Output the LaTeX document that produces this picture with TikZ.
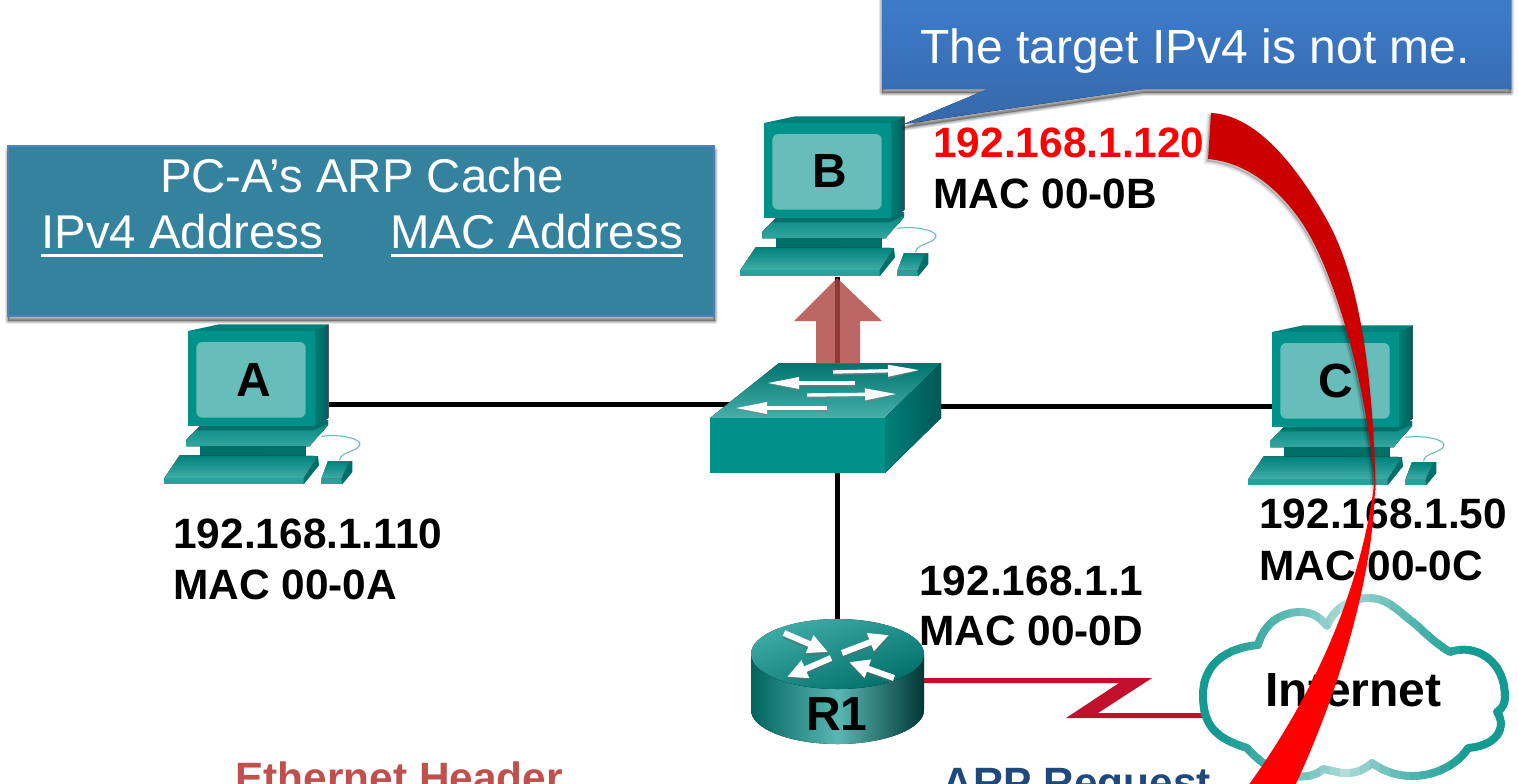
\documentclass[tikz,border=0pt]{standalone}
\usepackage{fontspec}
\setmainfont{Liberation Sans}
\usetikzlibrary{arrows.meta}
\definecolor{tealfront}{HTML}{00918A}
\definecolor{tealside}{HTML}{006E69}
\definecolor{tealtop}{HTML}{00807A}
\definecolor{tealscreen}{HTML}{66BDBA}
\definecolor{boxteal}{HTML}{34829E}
\definecolor{boxedge}{HTML}{4F81BD}
\definecolor{serialred}{HTML}{C0102E}
\definecolor{cloudlight}{HTML}{B4DEDB}
\definecolor{clouddark}{HTML}{159A92}
\definecolor{uparrow}{HTML}{AE4642}
\definecolor{calltop}{HTML}{3E7DCC}
\definecolor{callbot}{HTML}{3568AA}
\definecolor{ethcol}{HTML}{C0504D}
\definecolor{arpcol}{HTML}{1F497D}
\definecolor{darkarc}{HTML}{CC0000}
\tikzset{
  x=0.5pt,y=-0.5pt,
  lbl/.style={font=\fontsize{21.2}{25}\selectfont\bfseries,anchor=base west,inner sep=0pt,text=black},
  letterlbl/.style={font=\fontsize{24}{28}\selectfont\bfseries,anchor=base,inner sep=0pt,text=black},
  whitetxt/.style={font=\fontsize{24}{28}\selectfont,anchor=base,inner sep=0pt,text=white},
  boxtxt/.style={font=\fontsize{23.7}{28}\selectfont,anchor=base,inner sep=0pt,text=white},
  link/.style={draw=black,line width=2.5pt},
  swarrow/.style={line width=1.7pt,draw=white,-{Stealth[length=16pt,width=5.5pt,inset=0pt]}},
  swshade/.style={line width=2.5pt,draw=black!50,opacity=.5,-{Stealth[length=16pt,width=6.5pt,inset=0pt]}},
  rtarrow/.style={line width=3pt,draw=white,-{Stealth[length=10pt,width=9pt,inset=0pt]}},
  rtshade/.style={line width=3.6pt,draw=black!60,opacity=.4,-{Stealth[length=10pt,width=10pt,inset=0pt]}},
  pc/.pic={
    \begin{scope}[x=0.166667pt,y=-0.166667pt,shift={(-115,-62)}]
      \fill[left color=tealfront!85!black,right color=tealside!85!black] (497,62)--(537,42)--(537,322)--(497,350)--cycle;
      \fill[tealtop] (115,62)--(208,42)--(537,42)--(497,62)--cycle;
      \fill[tealfront] (115,62) rectangle (497,348);
      \fill[tealscreen,rounded corners=3pt] (140,95) rectangle (468,322);
      \fill[top color=tealtop,bottom color=tealfront!80!white] (150,348)--(497,348)--(535,328)--(535,345)--(490,395)--(480,408)--(110,408)--(110,388)--cycle;
      \fill[tealside] (150,348)--(497,348)--(530,328)--(535,340)--(490,360)--(140,360)--cycle;
      \fill[tealside] (150,408) rectangle (470,436);
      \fill[top color=tealtop,bottom color=tealfront!75!white] (90,435)--(505,437)--(462,503)--(44,503)--cycle;
      \fill[tealfront!85!white] (44,503) rectangle (462,522);
      \fill[tealside] (505,437)--(508,465)--(462,522)--(462,503)--cycle;
      \fill[top color=tealtop,bottom color=tealfront!75!white] (535,452)--(600,452)--(575,505)--(515,505)--cycle;
      \fill[tealfront!85!white] (515,505) rectangle (578,522);
      \fill[tealside] (600,452)--(608,452)--(608,485)--(578,522)--(575,505)--cycle;
      \draw[tealscreen,line width=.55pt] (515,378) .. controls (570,370) and (640,385) .. (630,405) .. controls (620,425) and (570,425) .. (570,450);
    \end{scope}
  }
}
\newcommand{\softshadow}[1]{%
  \foreach \d in {1,2,3,4,5}{\fill[black,opacity=.07,line join=round,draw=black,draw opacity=.07,line width=\d*.6pt] #1;}%
}
\newcommand{\darkarcpath}{(1211,113) .. controls (1255,115) and (1295,163) .. (1327,220) .. controls (1361,281) and (1373,380) .. (1375.5,490) -- (1375,490) .. controls (1368,390) and (1335,269) .. (1300,220) .. controls (1274,183) and (1242,162) .. (1208,159) -- cycle}
\begin{document}
\begin{tikzpicture}
\useasboundingbox (0,0) rectangle (1518,783);
\clip (0,0) rectangle (1518,783);
\fill[white] (0,0) rectangle (1518,783);

% connection points
\coordinate (portA) at (329,404);
\coordinate (swW) at (735,404);
\coordinate (swE) at (941,406);
\coordinate (portC) at (1272,406);
\coordinate (portB) at (837,277);
\coordinate (swN) at (837,364);
\coordinate (swS) at (837,473);
\coordinate (rtN) at (837,621);

% links
\draw[link] (portA) -- (swW);
\draw[link] (swE) -- (portC);
\draw[link] (portB) -- (swN);
\draw[link] (swS) -- (rtN);

% PCs
\pic at (188,331) {pc};
\pic at (764,123) {pc};
\pic at (1272,332) {pc};

% Switch
\fill[top color=tealtop!90!black,bottom color=tealfront!72!white] (710,418)--(779,363)--(941,363)--(885,418)--cycle;
\fill[tealfront] (710,418) rectangle (885,473);
\fill[left color=tealtop,right color=tealside!80!black] (885,418)--(941,363)--(941,418)--(885,473)--cycle;
\draw[swshade] (833,373) -- (920,371);
\draw[swshade] (855,384) -- (767,384);
\draw[swshade] (807,396) -- (897,395);
\draw[swshade] (827,409) -- (735,409);
\draw[swarrow] (833,372) -- (920,370);
\draw[swarrow] (855,383) -- (767,383);
\draw[swarrow] (807,395) -- (897,394);
\draw[swarrow] (827,408) -- (735,408);

% up arrow
\fill[uparrow,opacity=.82] (837,278)--(882,321)--(860,321)--(860,364)--(816,364)--(816,321)--(794,321)--cycle;

% Router
\fill[left color=tealside!90!black,right color=tealside!50!black,middle color=tealfront!65!white]
  (751,654) -- (751,710) arc[start angle=180,end angle=0,x radius=86.5,y radius=34] -- (924,654) -- cycle;
\fill[shading=axis,left color=tealfront!75!white,right color=tealside,shading angle=20] (837.5,654) ellipse[x radius=86.5,y radius=35];
\coordinate (tla) at (784,633); \coordinate (tlb) at (828,652);
\coordinate (tra) at (842,653); \coordinate (trb) at (889,635);
\coordinate (bla) at (831,658); \coordinate (blb) at (787,677);
\coordinate (bra) at (894,678); \coordinate (brb) at (849,662);
\foreach \a/\b in {tla/tlb,tra/trb,bla/blb,bra/brb}{\draw[rtshade] ([yshift=-1pt]\a) -- ([yshift=-1pt]\b);}
\foreach \a/\b in {tla/tlb,tra/trb,bla/blb,bra/brb}{\draw[rtarrow] (\a) -- (\b);}

% Serial link
\fill[serialred] (924,678)--(1152,678)--(1098,713)--(1205,713)--(1205,718)--(1066,718)--(1119,683)--(924,683)--cycle;

% Cloud
\foreach \s in {0,...,32}{
  \pgfmathsetmacro{\xl}{1190+\s*10}
  \pgfmathsetmacro{\xr}{\xl+11}
  \pgfmathsetmacro{\mixv}{max(0,min(100,100*(abs(\xl+5-1345)/125)^0.8))}
  \begin{scope}
    \clip (\xl,560) rectangle (\xr,800);
    \colorlet{cloudnow}{clouddark!\mixv!cloudlight}
    \draw[cloudnow,line width=4pt,line join=round]
      (1247,748) .. controls (1215,738) and (1203,725) .. (1203,695) .. controls (1203,665) and (1225,648) .. (1258,645)
      .. controls (1265,620) and (1285,612) .. (1300,612) .. controls (1312,612) and (1320,617) .. (1327,626)
      .. controls (1335,605) and (1355,598) .. (1368,598) .. controls (1385,598) and (1393,606) .. (1410,620)
      .. controls (1418,625) and (1430,640) .. (1450,652)
      .. controls (1475,643) and (1505,660) .. (1505,697) .. controls (1505,703) and (1503,708) .. (1497,712)
      .. controls (1505,722) and (1503,745) .. (1468,748)
      .. controls (1455,770) and (1410,790) .. (1372,763)
      .. controls (1362,772) and (1350,775) .. (1337,772) .. controls (1333,771) and (1328,770) .. (1323,769)
      .. controls (1310,782) and (1275,780) .. (1247,748) -- cycle;
  \end{scope}
}

% ARP cache box
\begin{scope}[yshift=-2pt]
  \softshadow{(8,146) rectangle (715,317)}
\end{scope}
\node[fill=boxteal,draw=boxedge,line width=.8pt,minimum width=353pt,minimum height=85pt,inner sep=0pt,outer sep=0pt,anchor=north west] (cachebox) at (8,146) {};
\node[boxtxt] (cachetitle) at (362,192) {PC-A’s ARP Cache};
\node[boxtxt,anchor=base west] (cacheip) at (41,248) {IPv4 Address};
\node[boxtxt,anchor=base west] (cachemac) at (390,248) {MAC Address};
\fill[white] (41,253.5) rectangle (323,257);
\fill[white] (391,253.5) rectangle (683,257);

% Callout
\begin{scope}[yshift=-2pt]
  \softshadow{(882,-10)--(1511,-10)--(1511,89)--(1143,89)--(904,124)--(988,89)--(882,89)--cycle}
\end{scope}
\fill[top color=calltop,bottom color=callbot] (882,-10)--(1511,-10)--(1511,89)--(1143,89)--(904,124)--(988,89)--(882,89)--cycle;
\node[whitetxt] (calltext) at (1195,63) {The target IPv4 is not me.};

% Labels
\node[letterlbl] (labA) at (254,396) {A};
\node[letterlbl] (labB) at (830,187) {B};
\node[letterlbl] (labC) at (1336,397) {C};
\node[letterlbl] (labR) at (837,730) {R1};
\node[lbl] (ipA) at (173,548) {192.168.1.110};
\node[lbl] (macA) at (173,599) {MAC 00-0A};
\node[lbl,text=red] (ipB) at (933,157) {192.168.1.120};
\node[lbl] (macB) at (933,208) {MAC 00-0B};
\node[lbl] (ipC) at (1259,528) {192.168.1.50};
\node[lbl] (macC) at (1259,580) {MAC 00-0C};
\node[lbl] (ipR) at (919,595) {192.168.1.1};
\node[lbl] (macR) at (919,645) {MAC 00-0D};
\node[font=\fontsize{24}{28}\selectfont\bfseries,anchor=base west,inner sep=0pt] (net) at (1265,706) {Internet};
\node[lbl,text=ethcol] (eth) at (235,792) {Ethernet Header};
\node[lbl,text=arpcol] (arp) at (942,797) {ARP Request};

% Red arcs
\foreach \d in {1,2,3,4,5}{
  \fill[black,opacity=.035,draw=black,draw opacity=.035,line width=\d*.6pt,shift={(-1.5,2.5)}] \darkarcpath;
}
\fill[darkarc] \darkarcpath;
\fill[red] (1375,478) .. controls (1376,560) and (1345,680) .. (1293,790) -- (1245,790) .. controls (1318,690) and (1362,585) .. (1375,478) -- cycle;
\end{tikzpicture}
\end{document}
